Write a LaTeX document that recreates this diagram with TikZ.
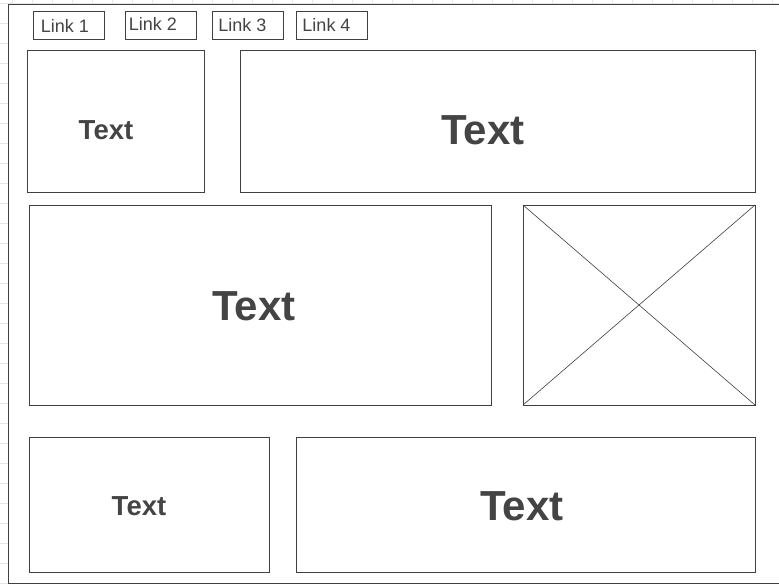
\documentclass[tikz,border=0pt]{standalone}
\usepackage{fontspec}
\setmainfont{Liberation Sans}
\definecolor{linegray}{HTML}{404040}
\definecolor{textgray}{HTML}{444444}
\definecolor{gridgray}{HTML}{E6E6E6}

\begin{document}
\begin{tikzpicture}[x=1pt,y=-1pt,
  frame box/.style={draw=linegray,line width=0.8pt,inner sep=0pt,outer sep=0pt},
  link box/.style={frame box,minimum width=71pt,minimum height=28pt},
  link text/.style={text=textgray,font=\fontsize{18}{21}\selectfont,inner sep=0pt},
  big text/.style={text=textgray,font=\fontsize{42}{50}\selectfont\bfseries,inner sep=0pt},
  small text/.style={text=textgray,font=\fontsize{27.5}{33}\selectfont\bfseries,inner sep=0pt},
  grid line/.style={draw=gridgray,line width=0.8pt}]

  \useasboundingbox (0,0) rectangle (779,584);

  % background grid
  \foreach \x in {12,32,...,772} \draw[grid line] (\x,0) -- (\x,584);
  \foreach \y in {3,23,...,583} \draw[grid line] (0,\y) -- (779,\y);

  % page
  \node[frame box,fill=white,minimum width=790pt,minimum height=579pt,anchor=north west] (page) at (8,4) {};

  % links
  \node[link box] (l1) at (68.5,25) {};
  \node[link box] (l2) at (160.5,25) {};
  \node[link box] (l3) at (247.5,25) {};
  \node[link box] (l4) at (331.5,25) {};
  \node[link text] (t1) at (65,26) {Link 1};
  \node[link text] (t2) at (153,24) {Link 2};
  \node[link text] (t3) at (242.5,25) {Link 3};
  \node[link text] (t4) at (326.5,25) {Link 4};

  % content boxes
  \node[frame box,minimum width=177pt,minimum height=142pt] (a) at (115.5,121) {};
  \node[frame box,minimum width=515pt,minimum height=142pt] (b) at (497.5,121) {};
  \node[frame box,minimum width=462pt,minimum height=200pt] (c) at (260,305) {};
  \node[frame box,minimum width=232pt,minimum height=200pt] (img) at (639,305) {};
  \node[frame box,minimum width=240pt,minimum height=135pt] (d) at (149,504.5) {};
  \node[frame box,minimum width=459pt,minimum height=135pt] (e) at (525.5,504.5) {};

  \node[small text] (ta) at (106,130) {Text};
  \node[big text] (tb) at (483,130) {Text};
  \node[big text] (tc) at (254,306) {Text};
  \node[small text] (td) at (139,506) {Text};
  \node[big text] (te) at (522,506) {Text};

  % image placeholder
  \path (img.north west) [-, draw=linegray, line width=0.6pt] edge (img.south east);
  \path (img.south west) [-, draw=linegray, line width=0.6pt] edge (img.north east);
\end{tikzpicture}
\end{document}
